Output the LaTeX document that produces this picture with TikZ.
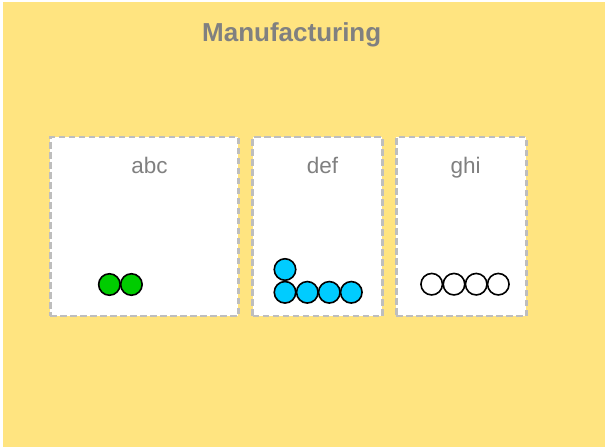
\documentclass[tikz,border=0pt]{standalone}
\usepackage{fontspec}
\setmainfont{Liberation Sans}
\definecolor{bgyellow}{HTML}{FFE480}
\definecolor{txtgray}{HTML}{808080}
\definecolor{dashgray}{HTML}{BEBEBE}
\definecolor{ballgreen}{HTML}{00CC00}
\definecolor{ballcyan}{HTML}{00CCFF}
\tikzset{
  panel/.style={draw=dashgray, line width=2.8pt, dash pattern=on 6.5pt off 3.5pt, fill=white, inner sep=0pt},
  paneltitle/.style={text=txtgray, font=\fontsize{22.5}{26}\selectfont, anchor=base, inner sep=0pt},
  ball/.style={circle, draw=black, line width=1.6pt, minimum size=21.5pt, inner sep=0pt},
}
\begin{document}
\begin{tikzpicture}[x=1pt,y=-1pt]
\useasboundingbox (0,0) rectangle (605,447);
\fill[bgyellow] (2.7,2) rectangle (605,447);
\node[text=txtgray, font=\bfseries\fontsize{26}{30}\selectfont, anchor=base, inner sep=0pt] (title) at (291.7,41) {Manufacturing};
% panels
\node[panel, minimum width=188pt, minimum height=179pt] (p1) at (144.2,226.5) {};
\node[panel, minimum width=129.5pt, minimum height=179pt] (p2) at (317.5,226.5) {};
\node[panel, minimum width=130pt, minimum height=179pt] (p3) at (461.2,226.5) {};
\node[paneltitle] (t1) at (149.5,173) {abc};
\node[paneltitle] (t2) at (322.4,173) {def};
\node[paneltitle] (t3) at (465.7,173) {ghi};
% green balls
\node[ball, fill=ballgreen] (g1) at (109.4,284.5) {};
\node[ball, fill=ballgreen] (g2) at (131.4,284.5) {};
% cyan balls
\node[ball, fill=ballcyan] (c0) at (285,269.5) {};
\node[ball, fill=ballcyan] (c1) at (285,292.3) {};
\node[ball, fill=ballcyan] (c2) at (307.3,292.3) {};
\node[ball, fill=ballcyan] (c3) at (329.3,292.3) {};
\node[ball, fill=ballcyan] (c4) at (351.3,292.3) {};
% white balls
\node[ball, fill=white] (w1) at (431.7,284.2) {};
\node[ball, fill=white] (w2) at (454,284.2) {};
\node[ball, fill=white] (w3) at (476.2,284.2) {};
\node[ball, fill=white] (w4) at (498.3,284.2) {};
\end{tikzpicture}
\end{document}
